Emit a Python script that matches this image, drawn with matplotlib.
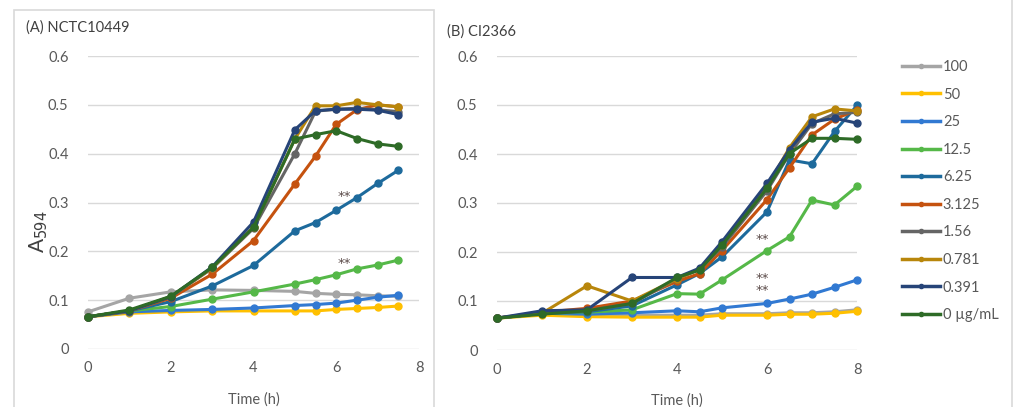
import matplotlib
matplotlib.use("Agg")
import matplotlib.pyplot as plt
from matplotlib.lines import Line2D
from matplotlib.patches import Rectangle

plt.rcParams['font.family'] = ['Lato', 'DejaVu Sans']

# ---------------- data ----------------
labels = ["100", "50", "25", "12.5", "6.25", "3.125", "1.56", "0.781", "0.391", "0 µg/mL"]
colors = ["#A5A5A5", "#FFC000", "#3179D2", "#55B848", "#1D6A9C", "#C5520F",
          "#656565", "#B8860B", "#264478", "#2E6B27"]

time_a = [0, 1, 2, 3, 4, 5, 5.5, 6, 6.5, 7, 7.5]
a_100 = [0.076, 0.104, 0.117, 0.121, 0.120, 0.118, 0.114, 0.112, 0.111, 0.109, 0.108]
a_50 = [0.066, 0.073, 0.076, 0.078, 0.078, 0.078, 0.078, 0.081, 0.083, 0.085, 0.088]
a_25 = [0.066, 0.076, 0.079, 0.081, 0.084, 0.089, 0.091, 0.094, 0.100, 0.106, 0.110]
a_12_5 = [0.066, 0.078, 0.087, 0.102, 0.117, 0.133, 0.142, 0.152, 0.164, 0.172, 0.182]
a_6_25 = [0.066, 0.078, 0.097, 0.129, 0.171, 0.242, 0.259, 0.284, 0.310, 0.339, 0.366]
a_3_125 = [0.066, 0.078, 0.104, 0.153, 0.222, 0.338, 0.395, 0.460, 0.490, 0.500, 0.496]
a_1_56 = [0.066, 0.078, 0.107, 0.165, 0.247, 0.400, 0.487, 0.491, 0.493, 0.490, 0.486]
a_0_781 = [0.066, 0.078, 0.107, 0.166, 0.250, 0.430, 0.498, 0.498, 0.505, 0.500, 0.496]
a_0_391 = [0.066, 0.078, 0.107, 0.168, 0.260, 0.449, 0.488, 0.491, 0.491, 0.489, 0.480]
a_0 = [0.066, 0.080, 0.108, 0.167, 0.249, 0.430, 0.439, 0.447, 0.431, 0.420, 0.415]

time_b = [0, 1, 2, 3, 4, 4.5, 5, 6, 6.5, 7, 7.5, 8]
b_100 = [0.066, 0.074, 0.072, 0.071, 0.071, 0.071, 0.074, 0.074, 0.076, 0.076, 0.078, 0.082]
b_50 = [0.065, 0.071, 0.068, 0.067, 0.067, 0.067, 0.071, 0.071, 0.073, 0.073, 0.075, 0.079]
b_25 = [0.065, 0.075, 0.073, 0.076, 0.080, 0.078, 0.086, 0.095, 0.104, 0.114, 0.128, 0.143]
b_12_5 = [0.065, 0.075, 0.077, 0.082, 0.115, 0.114, 0.143, 0.203, 0.231, 0.306, 0.296, 0.334]
b_6_25 = [0.065, 0.075, 0.078, 0.090, 0.133, 0.156, 0.190, 0.282, 0.388, 0.380, 0.446, 0.499]
b_3_125 = [0.065, 0.077, 0.085, 0.100, 0.140, 0.156, 0.203, 0.307, 0.372, 0.439, 0.471, 0.490]
b_1_56 = [0.065, 0.075, 0.080, 0.095, 0.145, 0.165, 0.210, 0.325, 0.400, 0.462, 0.482, 0.485]
b_0_781 = [0.065, 0.075, 0.131, 0.100, 0.145, 0.165, 0.215, 0.333, 0.413, 0.476, 0.492, 0.488]
b_0_391 = [0.065, 0.080, 0.082, 0.148, 0.148, 0.167, 0.221, 0.340, 0.409, 0.465, 0.473, 0.463]
b_0 = [0.065, 0.073, 0.080, 0.095, 0.148, 0.163, 0.214, 0.330, 0.401, 0.432, 0.432, 0.430]

series_a = [a_100, a_50, a_25, a_12_5, a_6_25, a_3_125, a_1_56, a_0_781, a_0_391, a_0]
series_b = [b_100, b_50, b_25, b_12_5, b_6_25, b_3_125, b_1_56, b_0_781, b_0_391, b_0]

x_ticks = [0, 2, 4, 6, 8]
y_ticks = [0, 0.1, 0.2, 0.3, 0.4, 0.5, 0.6]
y_ticklabels = ["0", "0.1", "0.2", "0.3", "0.4", "0.5", "0.6"]

# asterisk annotations (x, y in data units, text)
stars_a = [(6.2, 0.313, "**"), (6.2, 0.176, "**")]
stars_b = [(5.9, 0.226, "**"), (5.9, 0.134, "**\n**")]

# ---------------- figure ----------------
W, H = 1015, 407
fig = plt.figure(figsize=(W / 100, H / 100), dpi=100)
fig.patch.set_facecolor("white")

def px_axes(x0, x1, y_top, y_bot):
    return fig.add_axes([x0 / W, (H - y_bot) / H, (x1 - x0) / W, (y_bot - y_top) / H])

# panel borders
fig.add_artist(Rectangle((14 / W, -0.05), (434 - 14) / W, (H - 10) / H + 0.05,
                         transform=fig.transFigure, fill=False, edgecolor="#D9D9D9", lw=1.2))
fig.add_artist(Line2D([1012 / W, 1012 / W], [0, 1], transform=fig.transFigure,
                      color="#D9D9D9", lw=1.2))

tick_color = "#595959"
fs = 10.5

def style(ax):
    ax.set_xlim(0, 8)
    ax.set_ylim(0, 0.6)
    ax.set_xticks(x_ticks)
    ax.set_yticks(y_ticks)
    ax.set_yticklabels(y_ticklabels)
    for s in ax.spines.values():
        s.set_visible(False)
    ax.tick_params(length=0, colors=tick_color, labelsize=fs)
    ax.tick_params(axis="y", pad=14)
    ax.tick_params(axis="x", pad=9)
    ax.grid(axis="y", color="#D9D9D9", lw=1.0)
    ax.set_axisbelow(True)
    ax.set_xlabel("Time (h)", color=tick_color, fontsize=fs, labelpad=12)
    ax.patch.set_alpha(0)

axA = px_axes(88, 419, 56, 349)
axB = px_axes(497, 857, 56, 350)

for ax, t, ser in [(axA, time_a, series_a), (axB, time_b, series_b)]:
    style(ax)
    for y, c, lab in zip(ser, colors, labels):
        ax.plot(t, y, color=c, lw=2.2, marker="o", markersize=5, label=lab,
                clip_on=False, zorder=3)

for ax, stars in [(axA, stars_a), (axB, stars_b)]:
    for (x, y, s) in stars:
        ax.text(x, y, s, color="#5a4a48", fontsize=9.5, ha="center", va="center",
                family="DejaVu Sans", linespacing=0.85, zorder=5)

fig.text(26 / W, 1 - 28 / H, "(A) NCTC10449", color="#404040", fontsize=fs,
         ha="left", va="center")
fig.text(447 / W, 1 - 32 / H, "(B) CI2366", color="#404040", fontsize=fs,
         ha="left", va="center")
fig.text(39 / W, 1 - 232 / H, r"A$_{594}$", color="#404040", fontsize=15,
         rotation=90, ha="center", va="center")

handles = [Line2D([0], [0], color=c, lw=2.5, marker="o", markersize=3) for c in colors]
fig.legend(handles, labels, loc="upper left", bbox_to_anchor=(902 / W, 1 - 60 / H),
           frameon=False, fontsize=fs, labelcolor=tick_color, handlelength=2.6,
           handletextpad=0.2, labelspacing=0.93, borderaxespad=0, borderpad=0)

fig.savefig("out.png", dpi=100, facecolor="white")
